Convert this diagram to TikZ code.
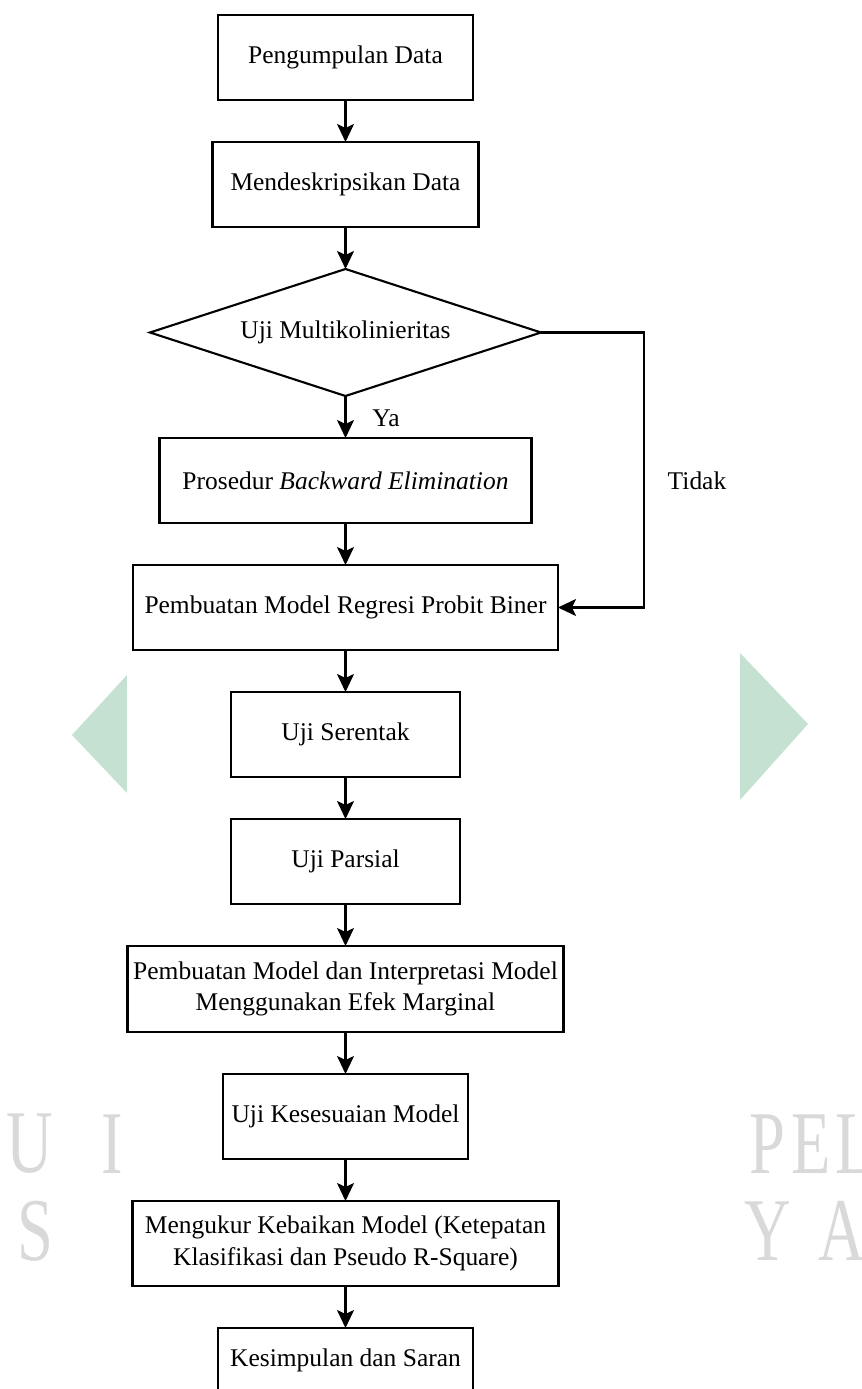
\documentclass[tikz,border=0pt]{standalone}
\usepackage{fontspec}
\setmainfont{Liberation Serif}
\usepackage{xcolor}
\usepackage{tikz}
\usetikzlibrary{shapes.geometric, arrows.meta, positioning, calc}
\definecolor{wm-green}{HTML}{C5E1D1}
\definecolor{wm-grey}{HTML}{D9D9D9}

\begin{document}
\begin{tikzpicture}[
    box/.style={draw, line width=1.2pt, fill=white, align=center, minimum height=1.7cm, inner sep=2pt, outer sep=0pt, font=\fontsize{14.5}{18}\selectfont},
    decision/.style={draw, diamond, aspect=3.08, line width=1.2pt, fill=white, inner sep=0pt, outer sep=0pt, minimum width=7.82cm, minimum height=2.54cm, font=\fontsize{14.5}{18}\selectfont},
    answer/.style={font=\fontsize{14.5}{18}\selectfont},
    arrow/.style={-{Stealth[length=0.36cm, width=0.34cm, inset=0.08cm]}, line width=1.2pt},
    wm/.style={text=wm-grey, font=\fontsize{51}{51}\selectfont, inner sep=0pt}
]
    \useasboundingbox (0,0) rectangle (17.24,-27.78);

    % watermark behind the chart
    \fill [wm-green] (1.44,-14.7) -- (2.54,-13.5) -- (2.54,-15.86) -- cycle;
    \fill [wm-green] (14.8,-13.06) -- (16.16,-14.48) -- (14.8,-16.0) -- cycle;
    \foreach \ch/\x/\y [count=\i] in {U/0.6/-22.88, I/2.24/-22.88, P/15.35/-22.88, E/16.22/-22.88, L/17.1/-22.88, S/0.7/-24.62, Y/15.35/-24.62, A/16.84/-24.62}
        \node (wm\i) [wm] at (\x,\y) {\scalebox{0.72}[1]{\ch}};
    \fill [white] (2.54,0) rectangle (14.8,-27.78);

    \node (1) [box, minimum width=5.1cm] at (6.91,-1.15) {Pengumpulan Data};
    \node (2) [box, minimum width=5.32cm, below=0.84cm of 1] {Mendeskripsikan Data};
    \node (3) [decision, below=0.84cm of 2] {Uji Multikolinieritas};
    \node (4) [box, minimum width=7.44cm, below=0.84cm of 3] {Prosedur \textit{Backward Elimination}};
    \node (5) [box, minimum width=8.5cm, below=0.84cm of 4] {Pembuatan Model Regresi Probit Biner};
    \node (6) [box, minimum width=4.58cm, below=0.84cm of 5] {Uji Serentak};
    \node (7) [box, minimum width=4.58cm, below=0.84cm of 6] {Uji Parsial};
    \node (8) [box, minimum width=8.72cm, minimum height=1.72cm, below=0.84cm of 7] {Pembuatan Model dan Interpretasi Model\\Menggunakan Efek Marginal};
    \node (9) [box, minimum width=4.9cm, below=0.84cm of 8] {Uji Kesesuaian Model};
    \node (10) [box, minimum width=8.52cm, below=0.84cm of 9] {Mengukur Kebaikan Model (Ketepatan\\Klasifikasi dan Pseudo R-Square)};
    \node (11) [box, minimum width=5.1cm, minimum height=1.28cm, below=0.84cm of 10] {Kesimpulan dan Saran};

    \node (ya) [answer] at (7.72,-8.36) {Ya};
    \node (tidak) [answer] at (13.94,-9.62) {Tidak};

    \draw [arrow] (1) -- (2);
    \draw [arrow] (2) -- (3);
    \draw [arrow] (3) -- (4);
    \draw [arrow] (4) -- (5);
    \draw [arrow] (3.east) -- ++(2.06,0) |- (5.east);
    \draw [arrow] (5) -- (6);
    \draw [arrow] (6) -- (7);
    \draw [arrow] (7) -- (8);
    \draw [arrow] (8) -- (9);
    \draw [arrow] (9) -- (10);
    \draw [arrow] (10) -- (11);
\end{tikzpicture}
\end{document}
